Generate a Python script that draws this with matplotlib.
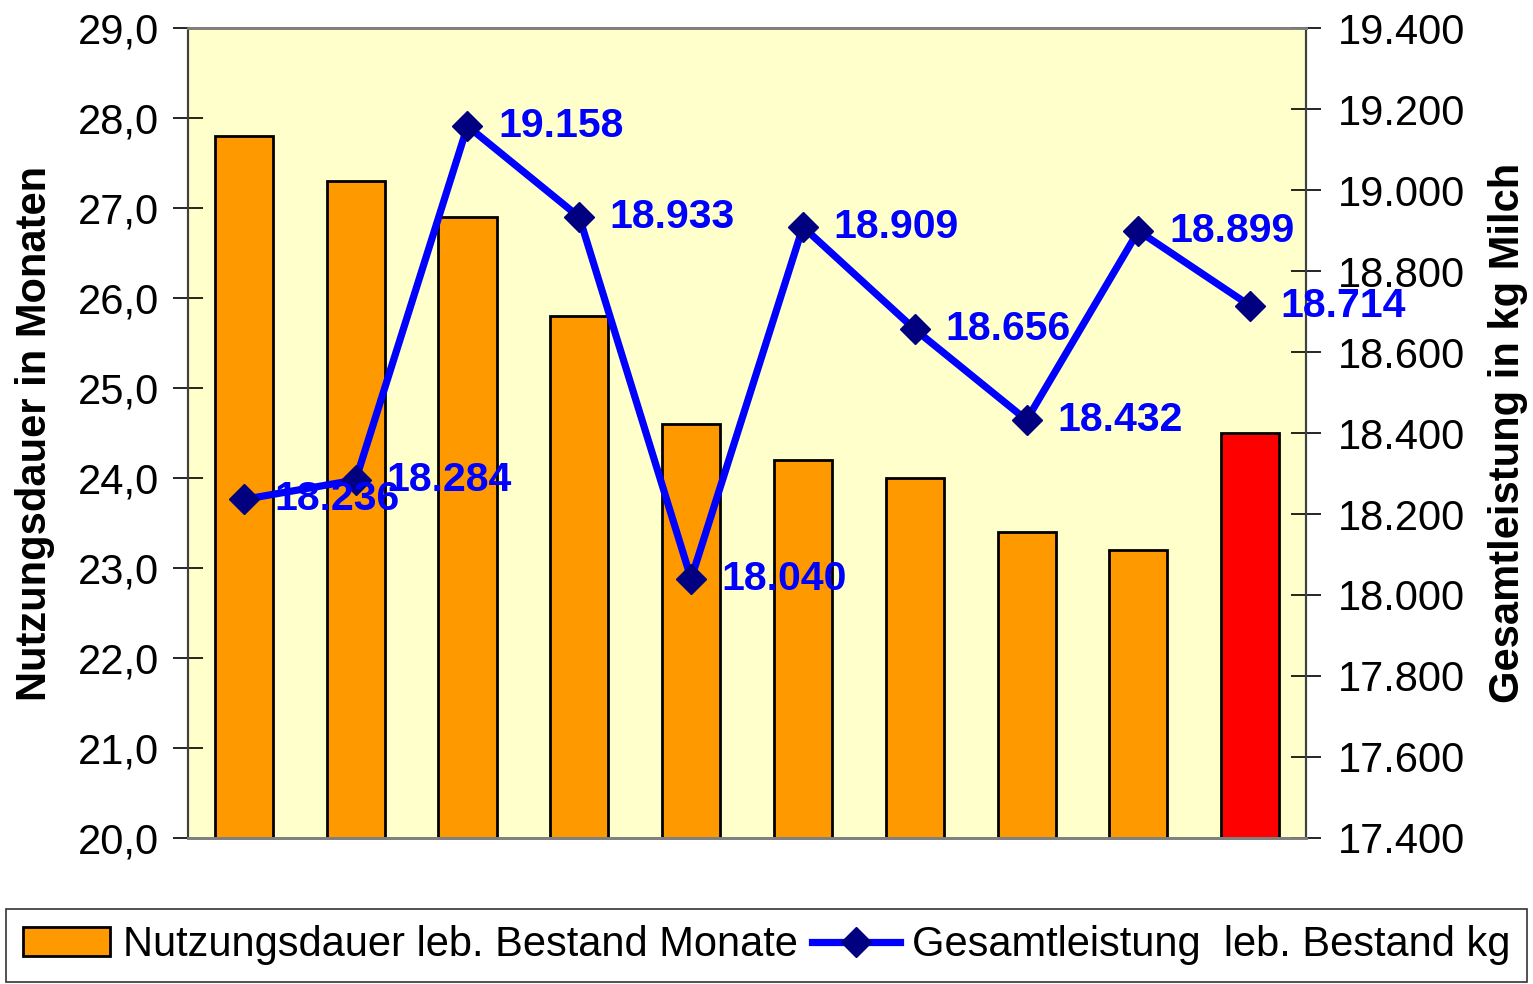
import numpy as np
import matplotlib.pyplot as plt
from matplotlib.lines import Line2D
from matplotlib.patches import Patch

plt.rcParams['font.family'] = ['Liberation Sans', 'DejaVu Sans']

# data
nutzungsdauer = [27.8, 27.3, 26.9, 25.8, 24.6, 24.2, 24.0, 23.4, 23.2, 24.5]
gesamtleistung = [18236, 18284, 19158, 18933, 18040, 18909, 18656, 18432, 18899, 18714]
bar_colors = ['#FF9900'] * 9 + ['#FF0000']

x = np.arange(len(nutzungsdauer))

fig = plt.figure(figsize=(15.33, 9.84), dpi=100)
ax = fig.add_axes([0.1226, 0.1484, 0.7294, 0.8231])
ax.set_facecolor('#FFFFCC')

ax.bar(x, nutzungsdauer, width=0.52, color=bar_colors, edgecolor='black', linewidth=2, zorder=2)
ax.set_ylim(20, 29)
ax.set_xlim(-0.5, len(x) - 0.5)
ax.set_yticks(np.arange(20, 29.1, 1))
ax.set_yticklabels([f'{v:.1f}'.replace('.', ',') for v in np.arange(20, 29.1, 1)])
ax.set_xticks([])
ax.tick_params(axis='y', direction='inout', length=22, width=1.2, labelsize=30, pad=10)
ax.set_ylabel('Nutzungsdauer in Monaten', fontsize=30, fontweight='bold', labelpad=16)

ax2 = ax.twinx()
ax2.plot(x, gesamtleistung, color='#0000FF', linewidth=5.2, marker='D', markersize=15,
         markerfacecolor='#000080', markeredgecolor='#000080', zorder=3, clip_on=False)
ax2.set_ylim(17400, 19400)
rt = np.arange(17400, 19401, 200)
ax2.set_yticks(rt)
ax2.set_yticklabels([f'{v:,}'.replace(',', '.') for v in rt])
ax2.tick_params(axis='y', direction='inout', length=22, width=1.2, labelsize=30, pad=12)
ax2.set_ylabel('Gesamtleistung in kg Milch', fontsize=30, fontweight='bold', labelpad=16)

for xi, v in zip(x, gesamtleistung):
    ax2.annotate(f'{v:,}'.replace(',', '.'), (xi, v), xytext=(22, 0), textcoords='offset points',
                 va='center', ha='left', color='#0000FF', fontsize=29.5, fontweight='bold', zorder=4,
                 annotation_clip=False)

for a in (ax, ax2):
    a.spines['top'].set_color('#808080')
    a.spines['top'].set_linewidth(2)
    a.spines['bottom'].set_color('#808080')
    a.spines['bottom'].set_linewidth(2)
    a.spines['left'].set_color('#404040')
    a.spines['right'].set_color('#404040')
    a.spines['left'].set_linewidth(1.5)
    a.spines['right'].set_linewidth(1.5)

handles = [Patch(facecolor='#FF9900', edgecolor='black', linewidth=2),
           Line2D([], [], color='#0000FF', linewidth=5.2, marker='D', markersize=15,
                  markerfacecolor='#000080', markeredgecolor='#000080')]
labels = ['Nutzungsdauer leb. Bestand Monate', 'Gesamtleistung  leb. Bestand kg']
leg = fig.legend(handles, labels, loc='lower center', bbox_to_anchor=(0.5, 0.002),
                 ncol=2, fontsize=30, frameon=True, fancybox=False,
                 edgecolor='black', handlelength=2.1, handletextpad=0.3, columnspacing=0.35,
                 borderaxespad=0, borderpad=0.4)
leg.get_frame().set_linewidth(1.2)

fig.savefig('out.png', dpi=100)
